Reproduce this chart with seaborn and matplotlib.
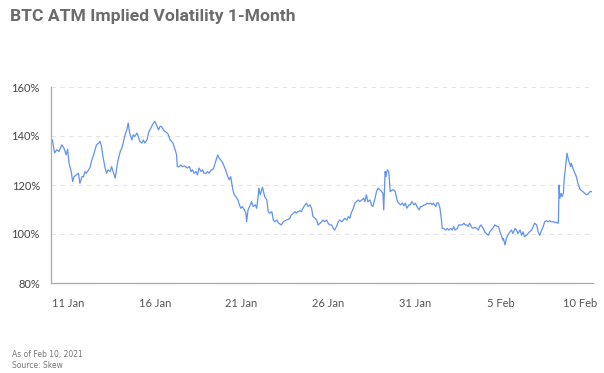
import matplotlib
matplotlib.use("Agg")
import matplotlib.pyplot as plt
import matplotlib.transforms as mtransforms
import seaborn as sns
import pandas as pd
import numpy as np

# ---------------- data ----------------
title = "BTC ATM Implied Volatility 1-Month"
footer_lines = ["As of Feb 10, 2021", "Source: Skew"]
start_time = "2021-01-10 00:00"

hours_since_start = [
    0, 2, 5, 8, 11, 15, 18, 21, 23, 25,
    28, 30, 32, 35, 38, 40, 43, 45, 47, 49,
    52, 54, 56, 59, 61, 63, 66, 68, 70, 72,
    75, 77, 79, 82, 84, 86, 89, 91, 93, 96,
    98, 100, 102, 105, 107, 109, 112, 114, 116, 119,
    121, 123, 126, 128, 130, 133, 135, 137,
    142, 144, 146, 149, 151, 153, 156, 158, 160, 162,
    165, 167, 169, 172, 174, 175, 178, 180, 182, 185,
    187, 189, 192, 194, 196, 198, 201, 203, 205, 208,
    210, 212, 215, 217, 219, 222, 224, 226, 229, 231,
    233, 235, 238, 240, 242, 245, 247, 249, 252, 254,
    256, 259, 261, 263, 265, 268, 270, 271, 273, 276,
    278, 280, 283, 285, 287, 288,
    290, 293, 296, 299, 301, 303, 306, 308, 310, 313,
    315, 317, 319, 322, 324, 326, 329, 331, 333, 336,
    338, 340, 342, 345, 347, 349, 352, 354, 356, 359,
    361, 363, 366, 368, 370, 373, 375, 377, 379, 382,
    384, 386, 389, 391, 393, 396, 398, 400, 403, 405,
    407, 410, 412, 414, 416, 419, 421, 423, 426, 428,
    433, 435, 437, 439, 442, 444, 446, 449, 451, 453,
    456, 458, 460, 461, 463, 464, 466, 468, 470, 473,
    475, 477, 480, 482, 484, 487, 489, 491, 493, 496,
    498, 500, 503, 505, 507, 510, 512, 514, 517, 519,
    521, 524, 526, 528, 530, 533, 535, 537, 539, 541,
    542, 544, 547, 549, 551, 554, 556, 558, 560, 563,
    565, 567, 570, 572, 574,
    576, 578, 580, 583, 585, 587, 590, 592, 594, 596,
    599, 601, 603, 606, 608, 610, 613, 615, 617, 620,
    622, 624, 626, 627, 629, 631, 633, 636, 638, 640,
    643, 645, 647, 650, 652, 654, 656, 659, 661, 663,
    666, 668, 670, 673, 675, 677, 680, 682, 684, 687,
    689, 691, 693, 696, 698, 700, 703, 704, 705, 707,
    708, 710, 711, 713, 715, 717, 720, 721, 723, 726,
    728, 730, 733, 735, 737, 740, 742, 744, 747, 749,
]

implied_vol_pct = [
    137.5, 138.4, 133.1, 134.4, 133.7, 136.4, 135.0, 132.3, 134.6, 128.9,
    125.5, 121.4, 123.4, 124.1, 124.8, 120.7, 123.4, 123.4, 125.5, 124.8,
    126.2, 127.0, 129.6, 132.3, 134.4, 136.4, 137.1, 137.8, 135.7, 131.6,
    126.9, 124.8, 126.2, 125.5, 127.5, 125.5, 122.8, 126.9, 130.3, 133.7,
    135.0, 137.1, 139.8, 142.5, 145.3, 141.2, 138.4, 140.5, 139.8, 141.2,
    139.8, 137.8, 137.1, 138.4, 137.1, 138.4, 141.2, 142.5,
    145.3, 145.9, 144.6, 142.5, 143.9, 143.9, 142.5, 141.8, 141.5, 140.9,
    138.4, 137.8, 137.1, 134.4, 132.3, 127.5, 127.5, 128.2, 127.5, 127.8,
    127.3, 126.9, 127.5, 125.5, 126.2, 124.8, 125.5, 124.1, 126.9, 125.5,
    126.2, 124.8, 124.8, 125.5, 124.8, 126.2, 126.2, 127.5, 130.3, 132.3,
    131.0, 130.3, 129.0, 127.5, 126.2, 123.4, 122.1, 123.4, 118.0, 116.0,
    115.3, 113.9, 111.9, 110.5, 111.2, 109.8, 108.5, 105.0, 109.8, 111.9,
    113.2, 111.2, 111.9, 110.5, 115.3, 118.7,
    116.0, 119.1, 115.3, 113.9, 109.1, 108.5, 109.1, 105.7, 105.0, 105.7,
    104.6, 104.1, 103.7, 105.0, 105.4, 105.7, 106.0, 106.4, 107.8, 108.5,
    109.1, 108.5, 109.1, 109.5, 109.1, 110.5, 111.9, 112.6, 111.2, 111.9,
    110.5, 107.1, 106.4, 105.7, 103.7, 104.4, 105.0, 105.7, 105.0, 105.7,
    104.4, 103.7, 103.7, 102.3, 101.6, 103.3, 105.0, 105.7, 105.0, 105.7,
    106.4, 105.7, 107.1, 106.4, 108.5, 110.5, 112.6, 113.2, 113.9, 113.2,
    114.6, 113.2, 116.0, 113.2, 113.9, 111.9, 111.2, 114.6, 117.3, 118.7,
    118.0, 117.3, 116.6, 109.8, 125.5, 123.4, 126.2, 125.5, 117.3, 118.0,
    118.0, 117.3, 113.2, 112.6, 111.9, 112.6, 111.5, 112.6, 110.5, 111.9,
    111.9, 113.2, 111.9, 112.6, 111.2, 109.8, 111.2, 111.2, 111.9, 111.9,
    112.6, 112.3, 112.6, 111.9, 112.6, 111.2, 112.8, 112.6, 110.5, 105.7,
    102.3, 102.3, 101.6, 102.3, 101.6, 102.3, 101.6, 103.0, 101.6, 102.3,
    103.7, 103.7, 103.7, 104.4, 103.7,
    103.7, 103.0, 104.4, 102.7, 102.3, 102.7, 102.3, 101.6, 103.0, 103.7,
    102.3, 100.9, 100.2, 99.5, 100.9, 101.6, 102.7, 103.7, 103.3, 103.0,
    100.9, 99.5, 97.5, 98.2, 95.5, 98.2, 99.5, 100.9, 101.6, 100.2,
    102.3, 101.6, 100.2, 101.6, 99.5, 100.9, 98.9, 99.5, 100.2, 100.9,
    101.6, 103.0, 104.4, 103.7, 100.9, 99.5, 101.6, 103.0, 105.0, 105.4,
    105.0, 105.4, 105.0, 105.0, 104.7, 104.7, 104.4, 120.0, 114.6, 116.6,
    115.3, 116.6, 122.1, 127.5, 133.0, 130.3, 127.5, 128.9, 126.9, 124.8,
    123.4, 120.7, 118.3, 117.8, 117.3, 116.6, 116.0, 116.3, 117.3, 117.3,
]

x_tick_dates = ["2021-01-11", "2021-01-16", "2021-01-21", "2021-01-26",
                "2021-01-31", "2021-02-05", "2021-02-10"]
x_tick_labels = ["11 Jan", "16 Jan", "21 Jan", "26 Jan", "31 Jan", "5 Feb", "10 Feb"]
y_ticks = [80, 100, 120, 140, 160]
y_tick_labels = ["80%", "100%", "120%", "140%", "160%"]

# ---------------- figure ----------------
sns.set_style("white")
plt.rcParams["font.family"] = ["Lato", "DejaVu Sans"]

t0 = pd.Timestamp(start_time)
df = pd.DataFrame({
    "time": t0 + pd.to_timedelta(hours_since_start, unit="h"),
    "iv": implied_vol_pct,
})

W, H = 604, 373
fig = plt.figure(figsize=(W / 100, H / 100), dpi=100)
fig.patch.set_facecolor("white")
ax = fig.add_axes([51 / W, 1 - 283 / H, (593 - 51) / W, (283 - 87) / H])

sns.lineplot(data=df, x="time", y="iv", ax=ax, color="#6193ee",
             linewidth=0.9, estimator=None)

ax.set_xlim(t0, t0 + pd.Timedelta(hours=751))
ax.set_ylim(80, 160)
ax.set_yticks(y_ticks)
ax.set_yticklabels(y_tick_labels)
ax.set_xticks(pd.to_datetime(x_tick_dates))
ax.set_xticklabels(x_tick_labels)
ax.set_xlabel("")
ax.set_ylabel("")

ax.yaxis.grid(True, color="#e4e4e4", linestyle=(0, (4, 4)), linewidth=0.8)
ax.xaxis.grid(False)
ax.set_axisbelow(True)

for side in ["top", "right"]:
    ax.spines[side].set_visible(False)
for side in ["left", "bottom"]:
    ax.spines[side].set_color("#aaaaaa")
    ax.spines[side].set_linewidth(0.9)

ax.tick_params(axis="x", length=4, width=0.8, color="#aaaaaa", direction="out",
               pad=7, labelsize=8, labelcolor="#555555")
ax.tick_params(axis="y", length=0, pad=8, labelsize=8, labelcolor="#444444")

# last x label sits inside the figure
last = ax.get_xticklabels()[-1]
last.set_transform(last.get_transform() + mtransforms.ScaledTranslation(-8 / 100, 0, fig.dpi_scale_trans))

fig.text(10 / W, 1 - 17 / H, title, fontsize=12.6, fontweight="bold",
         color="#6b6b6b", va="center", ha="left",
         family=["Liberation Sans Narrow", "Roboto", "DejaVu Sans"])

fig.text(12 / W, 1 - 355 / H, footer_lines[0], fontsize=5.5, color="#777777",
         va="center", ha="left", family=["Liberation Sans Narrow", "DejaVu Sans"])
fig.text(12 / W, 1 - 366 / H, footer_lines[1], fontsize=5.5, color="#777777",
         va="center", ha="left", family=["Liberation Sans Narrow", "DejaVu Sans"])

fig.savefig("out.png", dpi=100, facecolor="white")
